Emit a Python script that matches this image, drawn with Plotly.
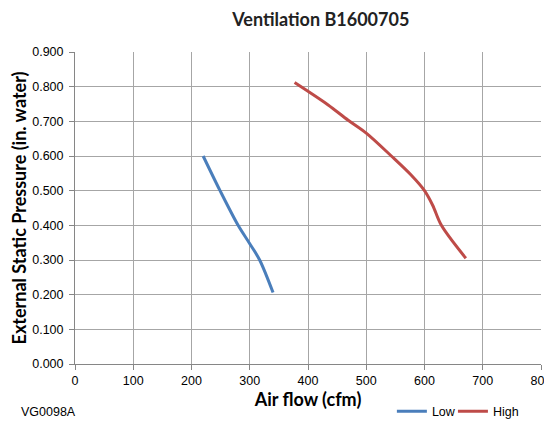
import plotly.graph_objects as go

low_x = [220, 249, 280, 300, 317, 340]
low_y = [0.600, 0.500, 0.400, 0.347, 0.300, 0.206]

high_x = [377, 434, 469, 500, 543, 577, 600, 614, 629, 671]
high_y = [0.812, 0.748, 0.703, 0.666, 0.600, 0.545, 0.500, 0.458, 0.400, 0.305]

x_ticks = [0, 100, 200, 300, 400, 500, 600, 700, 800]
y_ticks = [0.0, 0.1, 0.2, 0.3, 0.4, 0.5, 0.6, 0.7, 0.8, 0.9]

BLUE = "#4A7EBB"
RED = "#BE4B48"
TFONT = "Lato"
LFONT = "Liberation Sans"

fig = go.Figure()
fig.add_trace(go.Scatter(x=low_x, y=low_y, mode="lines", name="Low", legend="legend",
                         line=dict(color=BLUE, width=3, shape="spline", smoothing=0.9)))
fig.add_trace(go.Scatter(x=high_x, y=high_y, mode="lines", name="High", legend="legend2",
                         line=dict(color=RED, width=3, shape="spline", smoothing=0.9)))

leg_common = dict(orientation="h", xanchor="left", y=-0.153, yanchor="middle",
                  font=dict(family=LFONT, size=12.5), itemwidth=30,
                  bgcolor="rgba(0,0,0,0)")

fig.update_layout(
    width=544, height=415,
    margin=dict(l=67, r=11, t=44, b=59, autoexpand=False),
    paper_bgcolor="white", plot_bgcolor="white",
    font=dict(family=LFONT, size=12.5, color="#000000"),
    title=dict(text="<b>Ventilation B1600705</b>", x=0.575, xanchor="center",
               y=0.971, yanchor="middle", font=dict(family=TFONT, size=18, color="#222222")),
    showlegend=True,
    legend=dict(x=0.68, **leg_common),
    legend2=dict(x=0.811, **leg_common),
    annotations=[dict(text="VG0098A", x=-0.1205, y=-0.153, xref="paper", yref="paper",
                      showarrow=False, font=dict(family=LFONT, size=12.5),
                      xanchor="left", yanchor="middle")],
)

fig.update_xaxes(range=[0, 800], tickvals=x_ticks, ticktext=[str(v) for v in x_ticks],
                 showgrid=True, gridcolor="#A6A6A6", gridwidth=1,
                 showline=True, linecolor="#868686", linewidth=1,
                 ticks="outside", ticklen=5, tickcolor="#868686",
                 zeroline=False, mirror=False, automargin=False,
                 ticklabelstandoff=0,
                 tickfont=dict(family=LFONT, size=12.5),
                 title=dict(text="<b>Air flow (cfm)</b>", font=dict(family=TFONT, size=18), standoff=0))
fig.update_yaxes(range=[0, 0.9], tickvals=y_ticks, ticktext=[f"{v:.3f}" for v in y_ticks],
                 showgrid=True, gridcolor="#A6A6A6", gridwidth=1,
                 showline=True, linecolor="#868686", linewidth=1,
                 ticks="outside", ticklen=5, tickcolor="#868686",
                 zeroline=False, automargin=False,
                 ticklabelstandoff=3,
                 tickfont=dict(family=LFONT, size=12.5),
                 title=dict(text="<b>External Static Pressure (in. water)</b>",
                            font=dict(family=TFONT, size=18), standoff=5))

fig.write_html("out.html")
